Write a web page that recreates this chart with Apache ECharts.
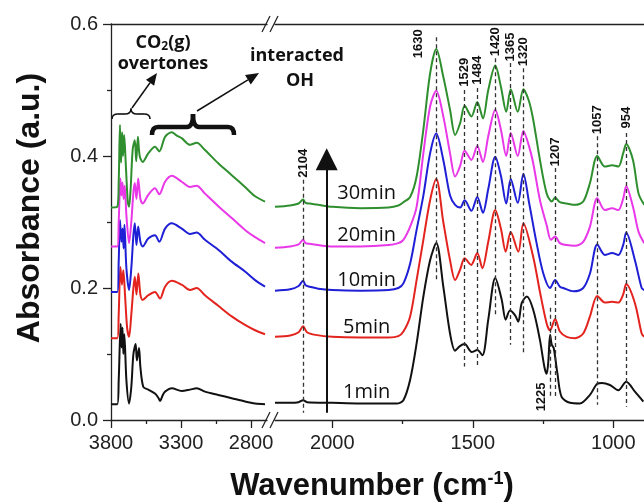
<!DOCTYPE html>
<html>
<head>
<meta charset="utf-8">
<script src="https://cdn.jsdelivr.net/npm/echarts@6/dist/echarts.min.js"></script>
<style>
html,body{margin:0;padding:0;background:#fff;}
#main{width:644px;height:504px;}
</style>
</head>
<body>
<div id="main"></div>
<script>
// 各时间的谱线 [波数, 吸光度]  左段 3800-2700
var left1min = [[3800,0.024],[3755,0.024],[3745,0.06],[3731,0.146],[3725,0.11],[3718,0.14],[3712,0.10],[3705,0.13],[3690,0.06],[3671,0.025],[3655,0.05],[3640,0.10],[3624,0.115],[3615,0.09],[3600,0.109],[3590,0.08],[3569,0.05],[3534,0.046],[3486,0.04],[3460,0.033],[3450,0.029],[3430,0.038],[3414,0.043],[3366,0.048],[3295,0.044],[3236,0.046],[3188,0.048],[3129,0.043],[3034,0.038],[2938,0.033],[2843,0.028],[2771,0.025],[2700,0.024]];
var left5min = [[3800,0.124],[3755,0.124],[3745,0.16],[3733,0.232],[3722,0.205],[3712,0.227],[3700,0.19],[3685,0.14],[3671,0.126],[3655,0.16],[3640,0.2],[3630,0.217],[3618,0.19],[3605,0.222],[3590,0.19],[3574,0.182],[3534,0.189],[3486,0.194],[3450,0.184],[3414,0.202],[3366,0.211],[3295,0.205],[3236,0.197],[3188,0.2],[3129,0.189],[3034,0.173],[2938,0.157],[2843,0.144],[2771,0.136],[2700,0.13]];
var left10min = [[3800,0.194],[3755,0.194],[3745,0.24],[3736,0.303],[3726,0.27],[3718,0.29],[3710,0.26],[3704,0.296],[3690,0.23],[3671,0.197],[3655,0.23],[3640,0.28],[3630,0.298],[3618,0.265],[3606,0.293],[3590,0.27],[3574,0.263],[3534,0.275],[3486,0.28],[3455,0.27],[3414,0.29],[3366,0.298],[3295,0.29],[3236,0.282],[3188,0.284],[3129,0.273],[3034,0.258],[2938,0.24],[2843,0.225],[2771,0.212],[2700,0.202]];
var left20min = [[3800,0.263],[3755,0.263],[3745,0.30],[3733,0.366],[3726,0.34],[3718,0.36],[3710,0.335],[3702,0.355],[3690,0.31],[3671,0.268],[3655,0.3],[3640,0.345],[3630,0.359],[3618,0.335],[3606,0.366],[3590,0.335],[3574,0.328],[3534,0.341],[3486,0.351],[3455,0.342],[3414,0.361],[3366,0.37],[3295,0.361],[3236,0.353],[3188,0.355],[3129,0.343],[3034,0.324],[2938,0.306],[2843,0.288],[2771,0.277],[2700,0.268]];
var left30min = [[3800,0.322],[3755,0.323],[3745,0.36],[3736,0.447],[3728,0.39],[3720,0.436],[3714,0.40],[3706,0.432],[3695,0.39],[3680,0.33],[3671,0.323],[3660,0.35],[3645,0.41],[3630,0.424],[3620,0.392],[3608,0.429],[3595,0.40],[3574,0.391],[3534,0.404],[3486,0.414],[3455,0.407],[3414,0.429],[3366,0.436],[3330,0.431],[3295,0.427],[3236,0.417],[3188,0.42],[3129,0.409],[3034,0.389],[2938,0.371],[2843,0.353],[2771,0.339],[2700,0.331]];

// 右段 2200-890
var right1min = [[2204,0.026],[2150,0.026],[2120,0.027],[2104,0.030],[2090,0.027],[2000,0.026],[1900,0.025],[1771,0.025],[1747,0.03],[1723,0.061],[1700,0.116],[1676,0.187],[1652,0.242],[1630,0.268],[1605,0.202],[1581,0.131],[1563,0.105],[1546,0.112],[1529,0.115],[1504,0.103],[1484,0.106],[1466,0.098],[1445,0.152],[1420,0.215],[1397,0.182],[1383,0.152],[1368,0.166],[1350,0.159],[1338,0.149],[1326,0.177],[1308,0.187],[1285,0.167],[1261,0.121],[1245,0.08],[1237,0.07],[1231,0.09],[1225,0.129],[1219,0.114],[1212,0.109],[1199,0.071],[1184,0.035],[1154,0.026],[1119,0.025],[1083,0.038],[1057,0.055],[1041,0.056],[1012,0.053],[982,0.045],[954,0.058],[923,0.043],[893,0.028]];
var right5min = [[2204,0.126],[2150,0.128],[2120,0.133],[2104,0.142],[2090,0.133],[2060,0.129],[2000,0.126],[1900,0.125],[1800,0.125],[1765,0.127],[1747,0.134],[1723,0.157],[1700,0.212],[1676,0.273],[1652,0.333],[1630,0.365],[1605,0.30],[1581,0.242],[1563,0.212],[1545,0.228],[1529,0.245],[1506,0.235],[1484,0.253],[1466,0.23],[1445,0.27],[1420,0.318],[1400,0.29],[1383,0.255],[1365,0.285],[1338,0.255],[1320,0.298],[1285,0.247],[1261,0.194],[1237,0.146],[1225,0.136],[1207,0.153],[1190,0.134],[1166,0.126],[1136,0.124],[1107,0.131],[1083,0.157],[1057,0.188],[1030,0.178],[1004,0.179],[982,0.178],[965,0.19],[954,0.206],[923,0.177],[899,0.131],[890,0.126]];
var right10min = [[2204,0.196],[2150,0.198],[2120,0.203],[2104,0.211],[2095,0.204],[2080,0.202],[2050,0.199],[2000,0.197],[1900,0.196],[1800,0.197],[1765,0.2],[1747,0.207],[1723,0.237],[1700,0.288],[1676,0.34],[1652,0.404],[1630,0.434],[1605,0.394],[1581,0.34],[1563,0.326],[1545,0.322],[1529,0.333],[1505,0.317],[1484,0.338],[1464,0.314],[1445,0.35],[1420,0.399],[1400,0.37],[1381,0.328],[1365,0.365],[1340,0.329],[1320,0.373],[1300,0.33],[1273,0.268],[1249,0.222],[1225,0.2],[1207,0.212],[1190,0.202],[1178,0.2],[1142,0.195],[1107,0.2],[1083,0.222],[1057,0.266],[1030,0.25],[1004,0.253],[982,0.25],[965,0.265],[954,0.284],[923,0.242],[899,0.2],[890,0.197]];
var right20min = [[2204,0.261],[2150,0.263],[2120,0.266],[2104,0.273],[2095,0.268],[2080,0.267],[2050,0.265],[2000,0.263],[1900,0.263],[1800,0.265],[1765,0.268],[1747,0.273],[1723,0.293],[1700,0.323],[1676,0.404],[1652,0.475],[1630,0.499],[1605,0.46],[1581,0.404],[1563,0.369],[1545,0.385],[1529,0.408],[1505,0.394],[1484,0.415],[1464,0.391],[1445,0.43],[1420,0.47],[1400,0.44],[1381,0.40],[1365,0.435],[1340,0.40],[1320,0.438],[1300,0.415],[1285,0.389],[1261,0.333],[1237,0.295],[1222,0.273],[1207,0.278],[1190,0.268],[1166,0.265],[1136,0.264],[1107,0.27],[1083,0.293],[1057,0.336],[1030,0.318],[1004,0.321],[982,0.318],[965,0.335],[954,0.354],[930,0.323],[910,0.285],[890,0.268]];
var right30min = [[2204,0.323],[2150,0.325],[2120,0.328],[2104,0.334],[2095,0.329],[2080,0.328],[2050,0.326],[2000,0.323],[1900,0.321],[1800,0.322],[1765,0.325],[1747,0.33],[1723,0.338],[1700,0.369],[1676,0.44],[1652,0.525],[1630,0.562],[1605,0.52],[1581,0.47],[1563,0.432],[1545,0.45],[1529,0.476],[1505,0.46],[1484,0.482],[1464,0.457],[1445,0.50],[1420,0.537],[1400,0.505],[1381,0.467],[1365,0.501],[1340,0.467],[1320,0.501],[1300,0.483],[1285,0.455],[1261,0.394],[1237,0.343],[1219,0.331],[1207,0.337],[1190,0.33],[1166,0.328],[1136,0.326],[1107,0.331],[1083,0.359],[1057,0.40],[1030,0.384],[1004,0.386],[982,0.384],[965,0.404],[954,0.418],[930,0.394],[910,0.343],[890,0.326]];

var timeNames = ['1min','5min','10min','20min','30min'];
var lineColors = ['#111111','#e3241e','#1f1fd6','#e838e8','#2f8f2f'];
var leftSets = [left1min, left5min, left10min, left20min, left30min];
var rightSets = [right1min, right5min, right10min, right20min, right30min];

// 峰位标注
var peakNames = ['2104','1630','1529','1484','1420','1365','1320','1225','1207','1057','954'];
var peakWave = [2104,1630,1529,1484,1420,1365,1320,1225,1207,1057,954];
var dashTop = [0.364,0.58,0.50,0.503,0.548,0.541,0.533,0.17,0.382,0.43,0.435];
var dashBottom = [0.011,0.209,0.081,0.081,0.159,0.114,0.098,0.033,0.033,0.023,0.02];
// 标签位置 (数据坐标)
var peakLabelPos = [[2104,0.389],[1695,0.57],[1531,0.527],[1484,0.53],[1420,0.573],[1365,0.565],[1320,0.558],[1255,0.035],[1207,0.406],[1057,0.455],[954,0.458]];
var timeLabelPos = [[1878,0.0414],[1878,0.1405],[1878,0.212],[1878,0.280],[1878,0.3435]];

var xTicksLeft = [2800,3300,3800];
var xMinorLeft = [3050,3550];
var xTicksRight = [1000,1500,2000];
var xMinorRight = [1250,1750];

var myChart = echarts.init(document.getElementById('main'));

var labelFont = 'Liberation Sans';

function xAxisBase(grid, min, max) {
    return {
        type: 'value', gridIndex: grid, inverse: true, min: min, max: max,
        position: 'bottom', splitLine: {show: false},
        axisLine: {show: true, onZero: false, lineStyle: {color: '#222', width: 1.3}},
        axisTick: {show: false}, axisLabel: {show: false}
    };
}
function plainNum(v) { return String(v); }

var xAxes = [];
// 左段
var a = xAxisBase(0, 2686, 3800);
a.axisTick = {show: true, length: 8, customValues: xTicksLeft, lineStyle: {color: '#222', width: 1.3}};
a.axisLabel = {show: true, customValues: xTicksLeft, margin: 13, fontSize: 20, color: '#222', fontFamily: labelFont, formatter: plainNum};
xAxes.push(a);
a = xAxisBase(0, 2686, 3800);
a.position = 'top';
xAxes.push(a);
a = xAxisBase(0, 2686, 3800);
a.axisLine = {show: false, onZero: false};
a.axisTick = {show: true, length: 4, customValues: xMinorLeft, lineStyle: {color: '#222', width: 1.3}};
xAxes.push(a);
// 右段
a = xAxisBase(1, 890.7, 2204);
a.axisTick = {show: true, length: 8, customValues: xTicksRight, lineStyle: {color: '#222', width: 1.3}};
a.axisLabel = {show: true, customValues: xTicksRight, margin: 13, fontSize: 20, color: '#222', fontFamily: labelFont, formatter: plainNum};
xAxes.push(a);
a = xAxisBase(1, 890.7, 2204);
a.position = 'top';
xAxes.push(a);
a = xAxisBase(1, 890.7, 2204);
a.axisLine = {show: false, onZero: false};
a.axisTick = {show: true, length: 4, customValues: xMinorRight, lineStyle: {color: '#222', width: 1.3}};
xAxes.push(a);

var series = [];
for (var i = 0; i < timeNames.length; i++) {
    series.push({
        name: timeNames[i], type: 'line', xAxisIndex: 0, yAxisIndex: 0,
        data: leftSets[i], showSymbol: false, smooth: 0.3, silent: true,
        lineStyle: {color: lineColors[i], width: 2}
    });
    series.push({
        name: timeNames[i], type: 'line', xAxisIndex: 3, yAxisIndex: 1,
        data: rightSets[i], showSymbol: false, smooth: 0.3, silent: true,
        lineStyle: {color: lineColors[i], width: 2}
    });
}

// 虚线 + 峰位数字
var dashData = [];
var peakLabelData = [];
for (var j = 0; j < peakWave.length; j++) {
    dashData.push([{coord: [peakWave[j], dashTop[j]]}, {coord: [peakWave[j], dashBottom[j]]}]);
    peakLabelData.push({name: peakNames[j], value: peakLabelPos[j]});
}
series.push({
    type: 'scatter', xAxisIndex: 3, yAxisIndex: 1, silent: true,
    symbolSize: 0, itemStyle: {color: '#000', opacity: 1},
    data: peakLabelData,
    label: {show: true, position: 'inside', formatter: '{b}', rotate: 90, opacity: 1,
        fontSize: 13, fontWeight: 'bold', color: '#111', fontFamily: labelFont},
    markLine: {
        silent: true, symbol: ['none', 'none'], label: {show: false},
        lineStyle: {color: '#333', width: 1.3, type: [4, 3], opacity: 1},
        data: dashData
    }
});

// 时间标签
var timeLabelData = [];
for (var k = 0; k < timeNames.length; k++) {
    timeLabelData.push({name: timeNames[k], value: timeLabelPos[k]});
}
series.push({
    type: 'scatter', xAxisIndex: 3, yAxisIndex: 1, silent: true, z: 5,
    symbolSize: 0, itemStyle: {color: '#000', opacity: 1},
    data: timeLabelData,
    label: {show: true, position: 'inside', formatter: '{b}', opacity: 1,
        fontSize: 20, color: '#111', fontFamily: 'Open Sans'}
});

// 时间方向的大箭头
series.push({
    type: 'line', xAxisIndex: 3, yAxisIndex: 1, data: [], silent: true,
    markLine: {
        silent: true, symbol: ['none', 'triangle'], symbolSize: 22,
        label: {show: false},
        lineStyle: {color: '#111', width: 2, type: 'solid', opacity: 1},
        data: [[{coord: [2020, 0.011]}, {coord: [2020, 0.395]}]]
    }
});

function arrow(x1, y1, x2, y2, w, hl, hw) {
    var ang = Math.atan2(y2 - y1, x2 - x1);
    var bx = x2 - hl * Math.cos(ang), by = y2 - hl * Math.sin(ang);
    var px = -Math.sin(ang) * hw / 2, py = Math.cos(ang) * hw / 2;
    return [
        {type: 'line', shape: {x1: x1, y1: y1, x2: bx, y2: by}, style: {stroke: '#111', lineWidth: w}},
        {type: 'polygon', shape: {points: [[x2, y2], [bx + px, by + py], [bx - px, by - py]]}, style: {fill: '#111'}}
    ];
}

// 花括号: 用二次贝塞尔 + 直线拼
function brace(x1, x2, yEnd, yBar, yTip, w) {
    var xm = (x1 + x2) / 2, r = 6;
    var st = {stroke: '#111', lineWidth: w, fill: null};
    return [
        {type: 'bezierCurve', shape: {x1: x1, y1: yEnd, cpx1: x1, cpy1: yBar, x2: x1 + r, y2: yBar}, style: st},
        {type: 'line', shape: {x1: x1 + r, y1: yBar, x2: xm - r, y2: yBar}, style: st},
        {type: 'bezierCurve', shape: {x1: xm - r, y1: yBar, cpx1: xm, cpy1: yBar, x2: xm, y2: yTip}, style: st},
        {type: 'bezierCurve', shape: {x1: xm, y1: yTip, cpx1: xm, cpy1: yBar, x2: xm + r, y2: yBar}, style: st},
        {type: 'line', shape: {x1: xm + r, y1: yBar, x2: x2 - r, y2: yBar}, style: st},
        {type: 'bezierCurve', shape: {x1: x2 - r, y1: yBar, cpx1: x2, cpy1: yBar, x2: x2, y2: yEnd}, style: st}
    ];
}

var graphics = [
    // 断轴符号
    {type: 'line', shape: {x1: 262, y1: 32, x2: 270, y2: 16}, style: {stroke: '#222', lineWidth: 1.3}},
    {type: 'line', shape: {x1: 270, y1: 32, x2: 278, y2: 16}, style: {stroke: '#222', lineWidth: 1.3}},
    {type: 'line', shape: {x1: 262, y1: 428, x2: 270, y2: 412}, style: {stroke: '#222', lineWidth: 1.3}},
    {type: 'line', shape: {x1: 270, y1: 428, x2: 278, y2: 412}, style: {stroke: '#222', lineWidth: 1.3}},
    // 文字
    {type: 'text', x: 163, y: 43, style: {text: '{a|CO}{s|2}{a|(g)}', align: 'center', verticalAlign: 'middle',
        textAlign: 'center', textVerticalAlign: 'middle',
        rich: {a: {fontSize: 18, fontWeight: 'bold', fontFamily: 'Open Sans', fill: '#111', color: '#111'},
               s: {fontSize: 12, fontWeight: 'bold', fontFamily: 'Open Sans', fill: '#111', color: '#111', padding: [8, 0, 0, 0]}}}},
    {type: 'text', x: 163, y: 64, style: {text: 'overtones', align: 'center', verticalAlign: 'middle',
        textAlign: 'center', textVerticalAlign: 'middle', font: 'bold 18px "Open Sans"', fill: '#111'}},
    {type: 'text', x: 297, y: 56, style: {text: 'interacted', align: 'center', verticalAlign: 'middle',
        textAlign: 'center', textVerticalAlign: 'middle', font: 'bold 18px "Open Sans"', fill: '#111'}},
    {type: 'text', x: 300, y: 81, style: {text: 'OH', align: 'center', verticalAlign: 'middle',
        textAlign: 'center', textVerticalAlign: 'middle', font: 'bold 18px "Open Sans"', fill: '#111'}},
    // 坐标轴标题
    {type: 'text', x: 30, y: 208, rotation: Math.PI / 2, style: {text: 'Absorbance (a.u.)', align: 'center', verticalAlign: 'middle',
        textAlign: 'center', textVerticalAlign: 'middle', font: 'bold 32px "Liberation Sans"', fill: '#111'}},
    {type: 'text', x: 372, y: 486, style: {text: '{b|Wavenumber (cm}{s|-1}{b|)}', align: 'center', verticalAlign: 'middle',
        textAlign: 'center', textVerticalAlign: 'middle',
        rich: {b: {fontSize: 31, fontWeight: 'bold', fontFamily: 'Liberation Sans', fill: '#111', color: '#111'},
               s: {fontSize: 18, fontWeight: 'bold', fontFamily: 'Liberation Sans', fill: '#111', color: '#111', verticalAlign: 'top', padding: [0, 0, 14, 0]}}}}
];
graphics = graphics.concat(brace(112, 150, 119, 114, 108.5, 1.6));
graphics = graphics.concat(brace(152, 234, 135, 127, 114, 4.5));
graphics = graphics.concat(arrow(132, 108, 157, 73, 1.5, 12, 10));
graphics = graphics.concat(arrow(197, 111, 259, 73, 1.5, 13, 11));

var option = {
    animation: false,
    backgroundColor: '#fff',
    grid: [
        {left: 111, top: 24, width: 156, height: 396},
        {left: 275, top: 24, width: 369, height: 396}
    ],
    xAxis: xAxes,
    yAxis: [
        {type: 'value', gridIndex: 0, min: 0, max: 0.6, interval: 0.2, position: 'left',
            splitLine: {show: false},
            axisLine: {show: true, onZero: false, lineStyle: {color: '#222', width: 1.3}},
            axisTick: {show: true, length: 8, lineStyle: {color: '#222', width: 1.3}},
            minorTick: {show: true, splitNumber: 2, length: 4, lineStyle: {color: '#222', width: 1.3}},
            axisLabel: {margin: 13, fontSize: 20, color: '#222', fontFamily: labelFont,
                formatter: function (v) { return v.toFixed(1); }}},
        {type: 'value', gridIndex: 1, min: 0, max: 0.6, show: false}
    ],
    graphic: graphics,
    series: series
};
myChart.setOption(option);
</script>
</body>
</html>
